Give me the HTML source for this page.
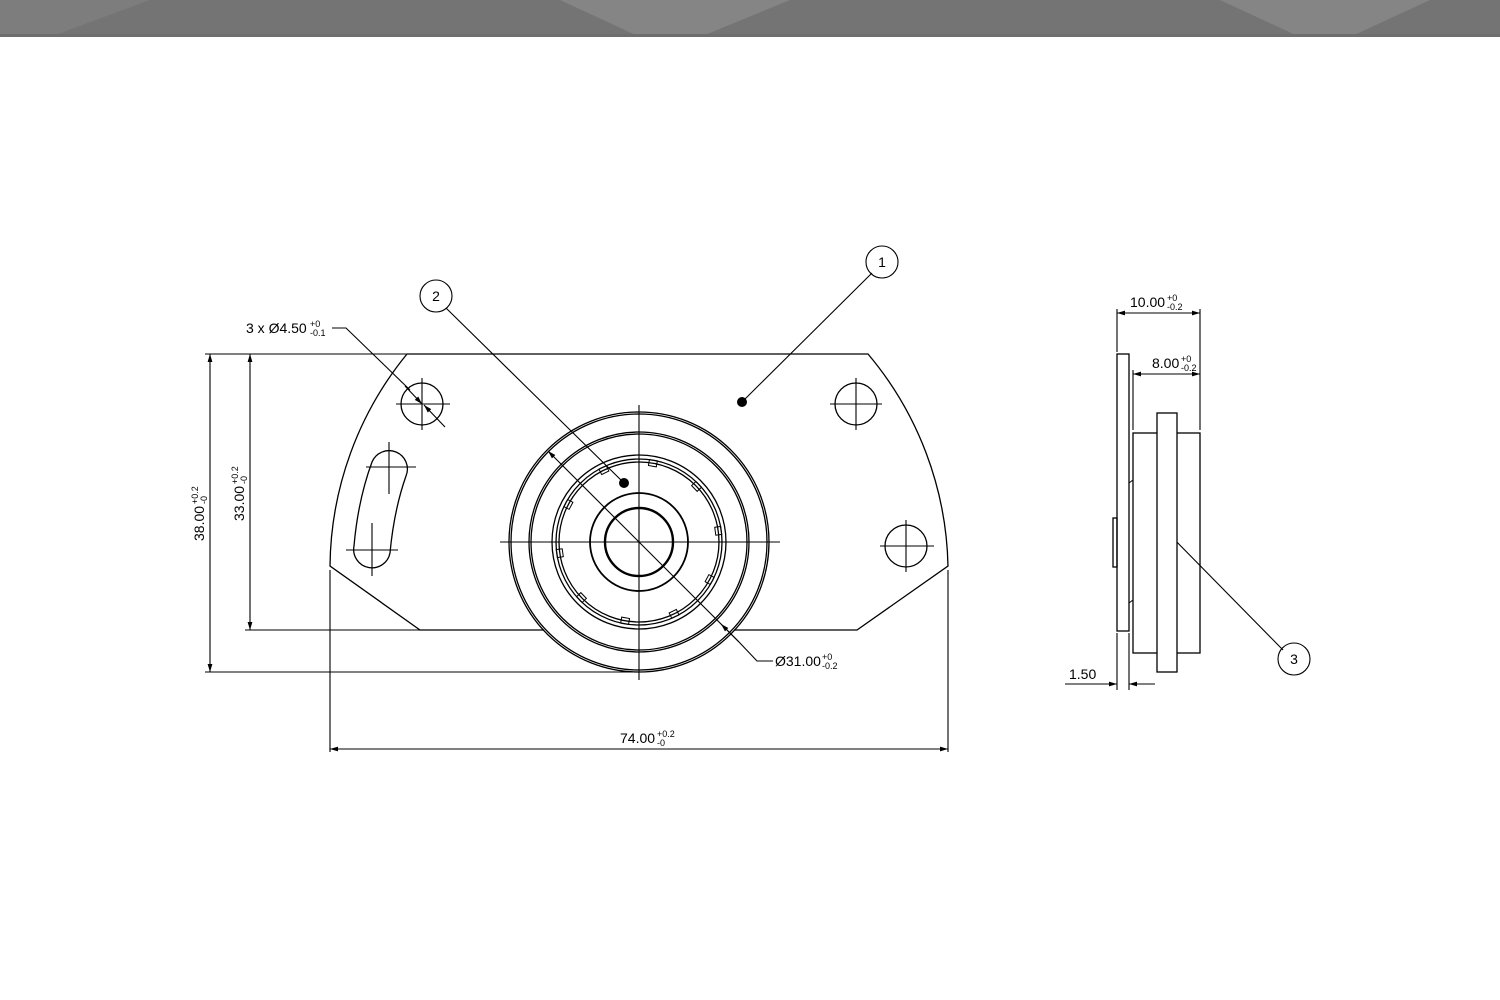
<!DOCTYPE html>
<html><head><meta charset="utf-8"><style>
html,body{margin:0;padding:0;background:#fff;width:1500px;height:1000px;overflow:hidden}
svg{display:block}
text{font-family:"Liberation Sans",Arial,sans-serif;fill:#000}
.s{font-size:9px}
</style></head><body>
<svg width="1500" height="1000" viewBox="0 0 1500 1000" xmlns="http://www.w3.org/2000/svg">
<defs>
<marker id="a" viewBox="0 0 10 10" refX="10" refY="5" markerWidth="13" markerHeight="8" orient="auto-start-reverse" markerUnits="userSpaceOnUse"><path d="M0,2 L10,5 L0,8z" fill="#000"/></marker>
</defs>
<rect x="0" y="0" width="1500" height="37" fill="#747474"/>
<polygon points="150,0 50,37 0,37 0,0" fill="#7d7d7d"/>
<polygon points="560,0 640,37 700,37 790,0" fill="#858585"/>
<polygon points="1220,0 1300,37 1350,37 1430,0" fill="#858585"/>
<rect x="0" y="34" width="1500" height="3" fill="#6e6e6e"/>

<g fill="none" stroke="#000" stroke-width="1.3">
<path d="M407,354 L868,354 A340,340 0 0 1 948,566 L857,630 L734,630 M544,630 L420,630 L330,566 A340,340 0 0 1 407,354"/>
<circle cx="422" cy="404" r="21"/>
<circle cx="856" cy="404" r="21"/>
<circle cx="906" cy="546" r="21"/>
<path d="M372,462 A18,18 0 0 1 406,476 Q394,510 390,553 A18,18 0 0 1 354,546 Q358,500 372,462 Z"/>
<circle cx="639" cy="542" r="130"/>
<circle cx="639" cy="542" r="128"/>
<circle cx="639" cy="542" r="110"/>
<circle cx="639" cy="542" r="108"/>
<circle cx="639" cy="542" r="87"/>
<circle cx="639" cy="542" r="83"/>
<circle cx="639" cy="542" r="80"/>
<circle cx="639" cy="542" r="49" stroke-width="1.8"/>
<circle cx="639" cy="542" r="34" stroke-width="2.4"/>
<g stroke-width="1">
<rect x="-4" y="-3" width="8" height="6" transform="translate(639,542) rotate(-80) translate(80,0) rotate(90)"/>
<rect x="-4" y="-3" width="8" height="6" transform="translate(639,542) rotate(-44) translate(80,0) rotate(90)"/>
<rect x="-4" y="-3" width="8" height="6" transform="translate(639,542) rotate(-8) translate(80,0) rotate(90)"/>
<rect x="-4" y="-3" width="8" height="6" transform="translate(639,542) rotate(28) translate(80,0) rotate(90)"/>
<rect x="-4" y="-3" width="8" height="6" transform="translate(639,542) rotate(64) translate(80,0) rotate(90)"/>
<rect x="-4" y="-3" width="8" height="6" transform="translate(639,542) rotate(100) translate(80,0) rotate(90)"/>
<rect x="-4" y="-3" width="8" height="6" transform="translate(639,542) rotate(136) translate(80,0) rotate(90)"/>
<rect x="-4" y="-3" width="8" height="6" transform="translate(639,542) rotate(172) translate(80,0) rotate(90)"/>
<rect x="-4" y="-3" width="8" height="6" transform="translate(639,542) rotate(208) translate(80,0) rotate(90)"/>
<rect x="-4" y="-3" width="8" height="6" transform="translate(639,542) rotate(244) translate(80,0) rotate(90)"/>
</g>
</g>
<g stroke="#000" stroke-width="1.1" fill="none">
<path d="M500,542 H780 M639,405 V680"/>
<path d="M396,404 H450 M422,378 V430"/>
<path d="M830,404 H882 M856,378 V430"/>
<path d="M880,546 H934 M906,520 V572"/>
<path d="M366,467 H416 M389,442 V494"/>
<path d="M346,550 H398 M372,523 V576"/>
<path d="M330,570 V752 M948,570 V752"/>
<path d="M330,749 H948" marker-start="url(#a)" marker-end="url(#a)"/>
<path d="M205,354 H407 M205,672 H639"/>
<path d="M210,354 V672" marker-start="url(#a)" marker-end="url(#a)"/>
<path d="M245,630 H420"/>
<path d="M250,354 V630" marker-start="url(#a)" marker-end="url(#a)"/>
<path d="M332,328 H346 L410,390"/>
<path d="M405,386 L422,404" marker-end="url(#a)"/>
<path d="M445,427 L424,405" marker-end="url(#a)"/>
<path d="M548,451 L739,642" marker-start="url(#a)"/>
<path d="M739,642 L721,624" marker-end="url(#a)"/>
<path d="M739,642 L757,661 H773"/>
<path d="M742,402 L872,273"/>
<path d="M624,483 L446,308"/>
<path d="M1168,533 L1283,650"/>
<circle cx="882" cy="262" r="16"/>
<circle cx="436" cy="296" r="16"/>
<circle cx="1294" cy="659" r="16"/>
</g>
<circle cx="742" cy="402" r="5"/>
<circle cx="624" cy="483" r="5"/>
<circle cx="1168" cy="533" r="5"/>

<g fill="none" stroke="#000" stroke-width="1.3">
<rect x="1117" y="354" width="12" height="277"/>
<rect x="1113" y="518" width="4" height="49"/>
<rect x="1133" y="433" width="67" height="220"/>
<rect x="1157" y="413" width="20" height="259" fill="#fff"/>
<path d="M1129,483 L1133,480 M1129,603 L1133,600" stroke-width="1"/>
</g>
<g stroke="#000" stroke-width="1.1" fill="none">
<path d="M1117,309 V352 M1200,309 V430 M1133,370 V430"/>
<path d="M1117,313 H1200" marker-start="url(#a)" marker-end="url(#a)"/>
<path d="M1133,374 H1200" marker-start="url(#a)" marker-end="url(#a)"/>
<path d="M1117,633 V690 M1129,633 V690"/>
<path d="M1065,684 H1117" marker-end="url(#a)"/>
<path d="M1155,684 H1129" marker-end="url(#a)"/>
</g>

<g font-size="14">
<text x="882" y="267" text-anchor="middle">1</text>
<text x="436" y="301" text-anchor="middle">2</text>
<text x="1294" y="664" text-anchor="middle">3</text>
<text x="246" y="333">3 x Ø4.50</text><text class="s" x="310" y="327">+0</text><text class="s" x="310" y="336">-0.1</text>
<text x="775" y="666">Ø31.00</text><text class="s" x="822" y="660">+0</text><text class="s" x="822" y="669">-0.2</text>
<text x="620" y="743">74.00</text><text class="s" x="657" y="737">+0.2</text><text class="s" x="657" y="746">-0</text>
<g transform="translate(204,541) rotate(-90)"><text x="0" y="0">38.00</text><text class="s" x="37" y="-6">+0.2</text><text class="s" x="37" y="3">-0</text></g>
<g transform="translate(244,521) rotate(-90)"><text x="0" y="0">33.00</text><text class="s" x="37" y="-6">+0.2</text><text class="s" x="37" y="3">-0</text></g>
<text x="1130" y="307">10.00</text><text class="s" x="1167" y="301">+0</text><text class="s" x="1167" y="310">-0.2</text>
<text x="1152" y="368">8.00</text><text class="s" x="1181" y="362">+0</text><text class="s" x="1181" y="371">-0.2</text>
<text x="1069" y="679">1.50</text>
</g>
</svg>
</body></html>
